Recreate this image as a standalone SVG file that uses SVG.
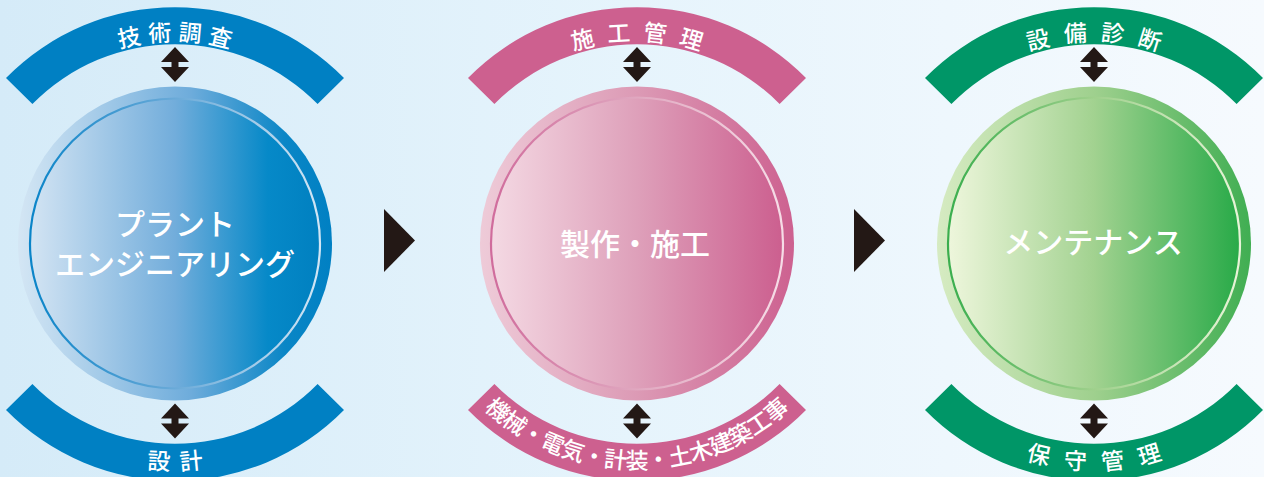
<svg xmlns="http://www.w3.org/2000/svg" xmlns:xlink="http://www.w3.org/1999/xlink" width="1264" height="477" viewBox="0 0 1264 477">
<style>
.lbl{font-family:"Noto Sans CJK JP","Noto Sans CJK SC",sans-serif;font-size:23px;font-weight:500;fill:#fff;dominant-baseline:central}
.main{font-family:"Noto Sans CJK JP","Noto Sans CJK SC",sans-serif;font-size:30px;font-weight:500;fill:#fff;text-anchor:middle;dominant-baseline:central}
.blue{fill:#0080c3}
.pink{fill:#cd608f}
.green{fill:#009667}
.dark{fill:#231815}
</style>
<defs>
<linearGradient id="bg" x1="0" y1="0" x2="1" y2="0">
<stop offset="0" stop-color="#d5ebf8"/><stop offset="0.5" stop-color="#e6f4fc"/><stop offset="1" stop-color="#f6fafe"/>
</linearGradient>
<linearGradient id="bOut" x1="0" y1="0" x2="1" y2="0">
<stop offset="0" stop-color="#d4e6f4"/><stop offset="0.55" stop-color="#6eacdb"/><stop offset="0.85" stop-color="#0a86c6"/><stop offset="1" stop-color="#0080c3"/>
</linearGradient>
<linearGradient id="bIn" x1="0" y1="0" x2="1" y2="0">
<stop offset="0" stop-color="#d3e4f3"/><stop offset="0.5" stop-color="#72addb"/><stop offset="0.82" stop-color="#0689c8"/><stop offset="1" stop-color="#0080c0"/>
</linearGradient>
<linearGradient id="bSt" x1="0" y1="0" x2="1" y2="0">
<stop offset="0" stop-color="#0a84c8"/><stop offset="0.5" stop-color="#6aaad8"/><stop offset="1" stop-color="#d2e6f5"/>
</linearGradient>
<linearGradient id="pOut" x1="0" y1="0" x2="1" y2="0">
<stop offset="0" stop-color="#eecbd8"/><stop offset="0.5" stop-color="#dc9ab5"/><stop offset="1" stop-color="#cd6190"/>
</linearGradient>
<linearGradient id="pIn" x1="0" y1="0" x2="1" y2="0">
<stop offset="0" stop-color="#f4d9e3"/><stop offset="0.5" stop-color="#dea0ba"/><stop offset="1" stop-color="#cc5f8f"/>
</linearGradient>
<linearGradient id="pSt" x1="0" y1="0" x2="1" y2="0">
<stop offset="0" stop-color="#d06c9c"/><stop offset="0.5" stop-color="#e0a8c0"/><stop offset="1" stop-color="#f6dde7"/>
</linearGradient>
<linearGradient id="gOut" x1="0" y1="0" x2="1" y2="0">
<stop offset="0" stop-color="#d6ebc2"/><stop offset="0.5" stop-color="#9fd08e"/><stop offset="1" stop-color="#40ae52"/>
</linearGradient>
<linearGradient id="gIn" x1="0" y1="0" x2="1" y2="0">
<stop offset="0" stop-color="#eef6dc"/><stop offset="0.5" stop-color="#a2d290"/><stop offset="1" stop-color="#28aa48"/>
</linearGradient>
<linearGradient id="gSt" x1="0" y1="0" x2="1" y2="0">
<stop offset="0" stop-color="#3aae4e"/><stop offset="0.5" stop-color="#9fd08c"/><stop offset="1" stop-color="#e8f4d8"/>
</linearGradient>
<path id="dbl" d="M0,-17.5 L14,-2.5 L3.5,-2.5 L3.5,2.5 L14,2.5 L0,17.5 L-14,2.5 L-3.5,2.5 L-3.5,-2.5 L-14,-2.5 Z"/>
<path id="t1" d="M-9.5,137.5 A213,213 0 0 1 359.5,137.5"/>
<path id="b1" d="M-12.1,352 A216,216 0 0 0 362.1,352"/>
<path id="t2" d="M452.5,137.5 A213,213 0 0 1 821.5,137.5"/>
<path id="b2" d="M450.8,351.5 A215,215 0 0 0 823.2,351.5"/>
<path id="t3" d="M909.5,137.5 A213,213 0 0 1 1278.5,137.5"/>
<path id="b3" d="M906.9,352 A216,216 0 0 0 1281.1,352"/>
</defs>
<rect width="1264" height="477" fill="url(#bg)"/>

<g id="node-plant">
<path class="blue" d="M6,78 A237,237 0 0 1 344,78 L317.6,104 A200,200 0 0 0 32.4,104 Z"/>
<path class="blue" d="M6,410 A237,237 0 0 0 344,410 L317.6,384 A200,200 0 0 1 32.4,384 Z"/>
<text class="lbl" letter-spacing="8" dx="4"><textPath href="#t1" startOffset="50%" text-anchor="middle">技術調査</textPath></text>
<text class="lbl" letter-spacing="9" dx="4.5" font-size="24"><textPath href="#b1" startOffset="50%" text-anchor="middle">設計</textPath></text>
<circle cx="175" cy="243.5" r="157" fill="url(#bOut)"/>
<circle cx="175" cy="243.5" r="145" fill="url(#bIn)" stroke="url(#bSt)" stroke-width="2.2"/>
<text class="main" x="175" y="222">プラント</text>
<text class="main" x="175" y="262">エンジニアリング</text>
<use href="#dbl" x="175" y="64.5" class="dark"/>
<use href="#dbl" x="175" y="421" class="dark"/>
</g>

<g id="node-construction">
<path class="pink" d="M468,78 A237,237 0 0 1 806,78 L779.6,104 A200,200 0 0 0 494.4,104 Z"/>
<path class="pink" d="M468,410 A237,237 0 0 0 806,410 L779.6,384 A200,200 0 0 1 494.4,384 Z"/>
<text class="lbl" letter-spacing="14" dx="7"><textPath href="#t2" startOffset="50%" text-anchor="middle">施工管理</textPath></text>
<text class="lbl" font-size="23" font-weight="700" letter-spacing="-1.6" dx="-0.8"><textPath href="#b2" startOffset="50%" text-anchor="middle">機械・電気・計装・土木建築工事</textPath></text>
<circle cx="637" cy="243.5" r="157" fill="url(#pOut)"/>
<circle cx="637" cy="243.5" r="146" fill="url(#pIn)" stroke="url(#pSt)" stroke-width="2.2"/>
<text class="main" x="635" y="242" font-size="31">製作・施工</text>
<use href="#dbl" x="637" y="64.5" class="dark"/>
<use href="#dbl" x="637" y="421" class="dark"/>
</g>

<g id="node-maintenance">
<path class="green" d="M925,78 A237,237 0 0 1 1263,78 L1236.6,104 A200,200 0 0 0 951.4,104 Z"/>
<path class="green" d="M925,410 A237,237 0 0 0 1263,410 L1236.6,384 A200,200 0 0 1 951.4,384 Z"/>
<text class="lbl" letter-spacing="15" dx="7.5"><textPath href="#t3" startOffset="50%" text-anchor="middle">設備診断</textPath></text>
<text class="lbl" letter-spacing="14" dx="7"><textPath href="#b3" startOffset="50%" text-anchor="middle">保守管理</textPath></text>
<circle cx="1094" cy="243.5" r="157" fill="url(#gOut)"/>
<circle cx="1094" cy="243.5" r="146" fill="url(#gIn)" stroke="url(#gSt)" stroke-width="2.2"/>
<text class="main" x="1093" y="240">メンテナンス</text>
<use href="#dbl" x="1094" y="64.5" class="dark"/>
<use href="#dbl" x="1094" y="421" class="dark"/>
</g>

<g id="connectors">
<path class="dark" d="M384,209 L415,240.5 L384,272 Z"/>
<path class="dark" d="M854,209 L885,240.5 L854,272 Z"/>
</g>
</svg>
